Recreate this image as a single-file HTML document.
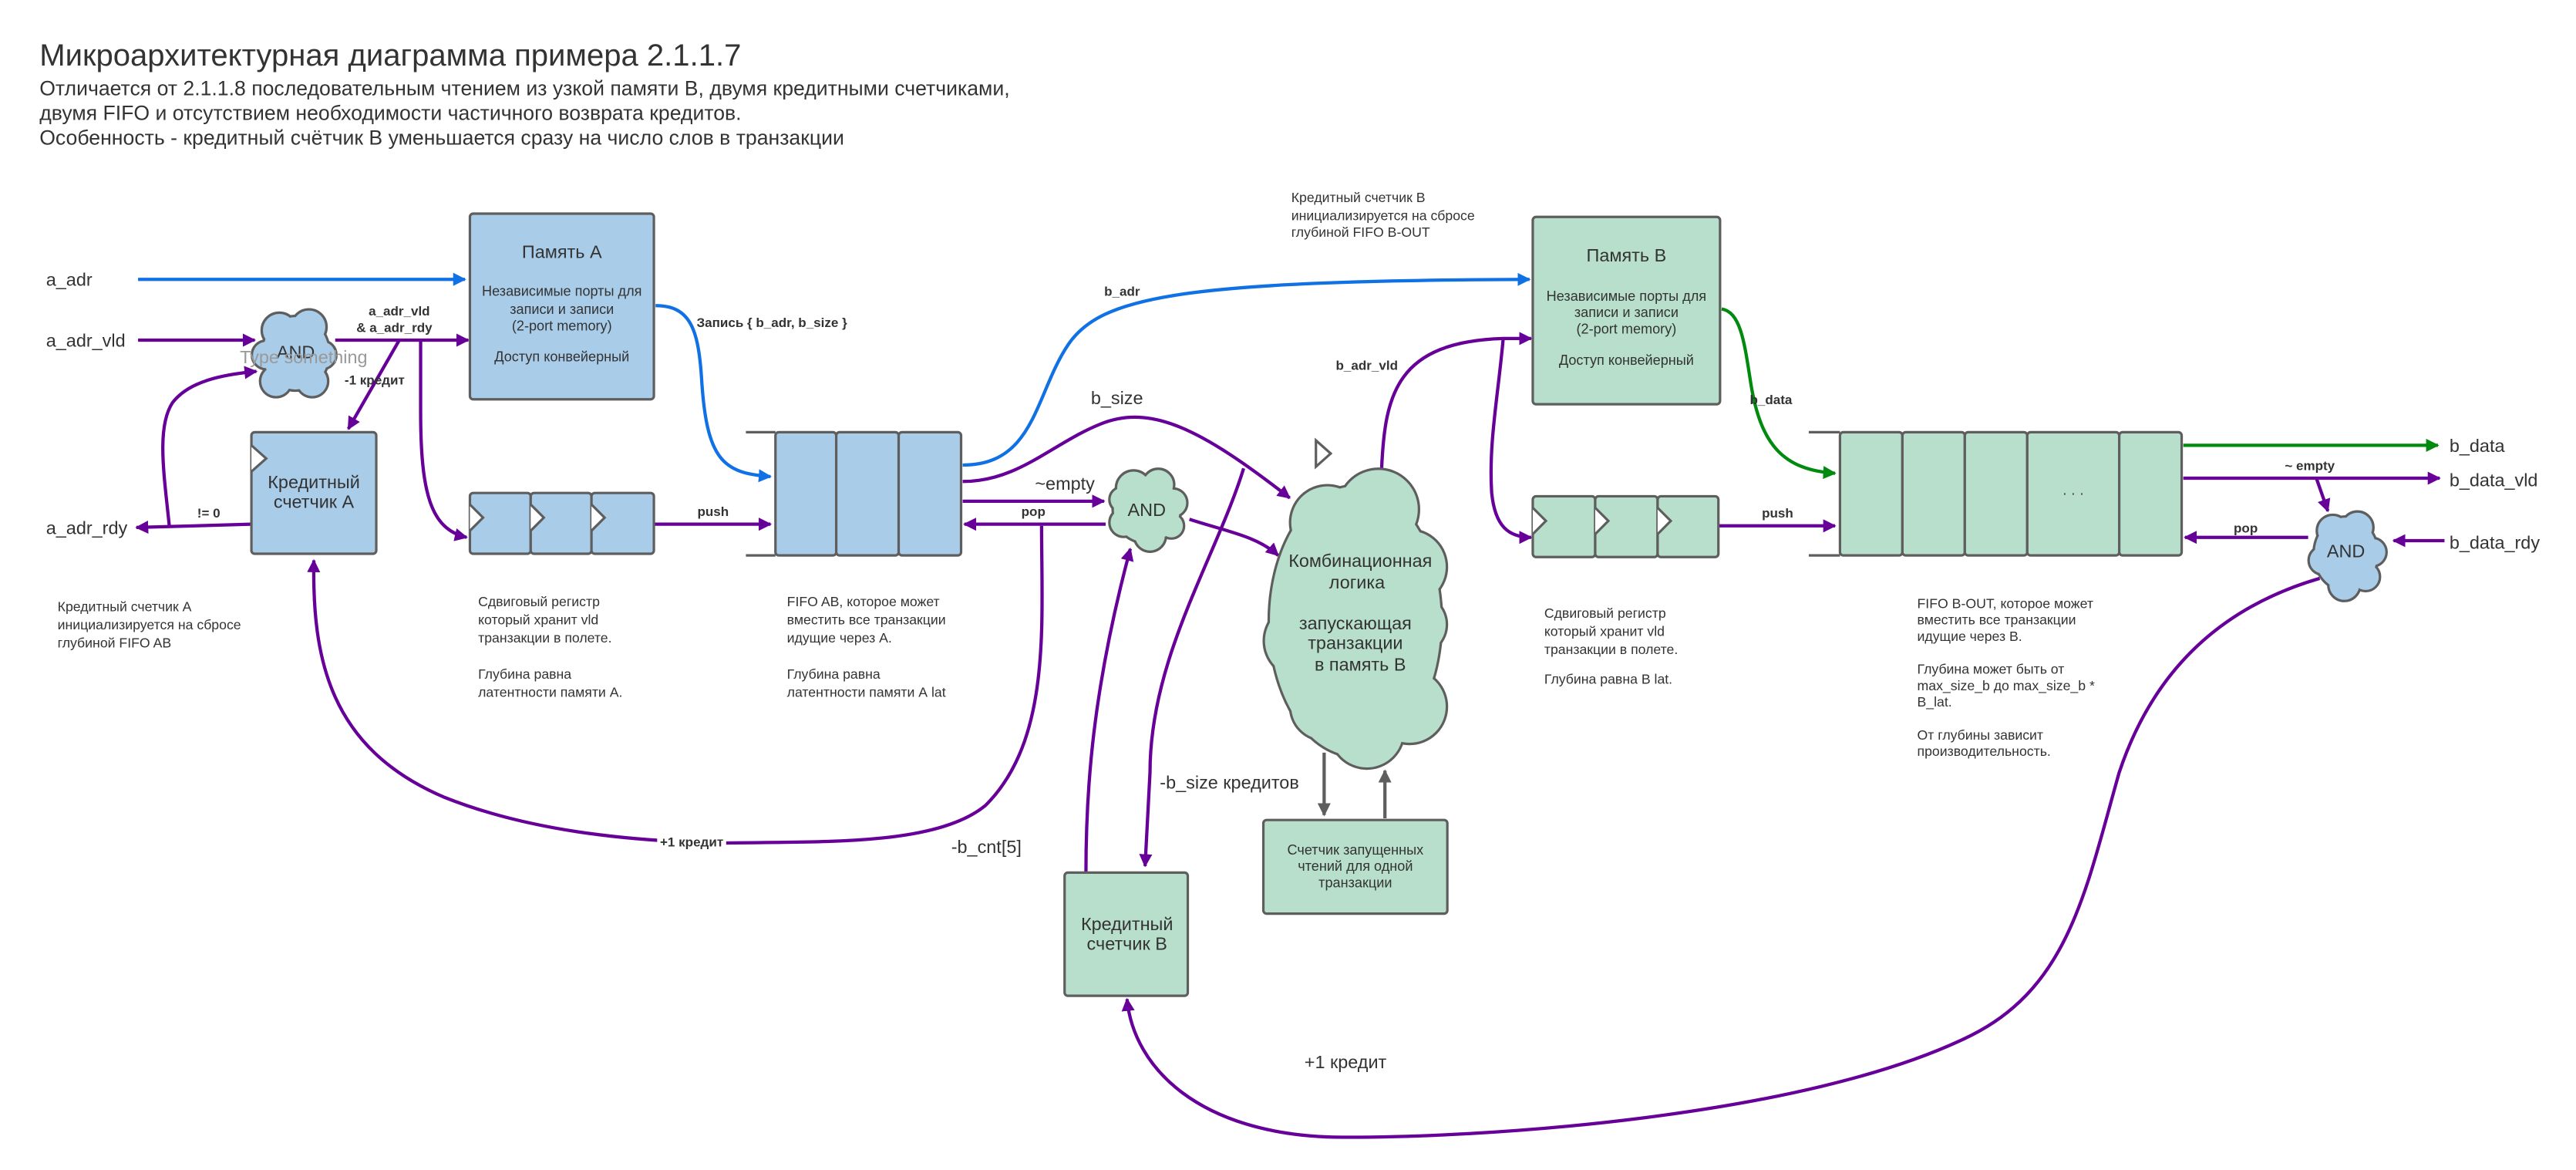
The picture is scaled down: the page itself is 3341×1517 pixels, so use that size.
<!DOCTYPE html>
<html><head><meta charset="utf-8"><style>
html,body{margin:0;padding:0;background:#fff}
svg{display:block}
text{font-family:"Liberation Sans","Noto Sans CJK SC",sans-serif;fill:#333}
.b{font-weight:bold}
</style></head><body>
<svg width="3341" height="1517" viewBox="0 0 1568 712" xmlns="http://www.w3.org/2000/svg">
<defs>
<marker id="mp" viewBox="0 0 10 10" refX="9" refY="5" markerWidth="4" markerHeight="4" orient="auto-start-reverse" markerUnits="strokeWidth"><path d="M0,0L10,5L0,10z" fill="#660099"/></marker>
<marker id="mb" viewBox="0 0 10 10" refX="9" refY="5" markerWidth="4" markerHeight="4" orient="auto" markerUnits="strokeWidth"><path d="M0,0L10,5L0,10z" fill="#1071e5"/></marker>
<marker id="mg" viewBox="0 0 10 10" refX="9" refY="5" markerWidth="4" markerHeight="4" orient="auto" markerUnits="strokeWidth"><path d="M0,0L10,5L0,10z" fill="#008a0e"/></marker>
<marker id="mk" viewBox="0 0 10 10" refX="9" refY="5" markerWidth="4" markerHeight="4" orient="auto" markerUnits="strokeWidth"><path d="M0,0L10,5L0,10z" fill="#5e5e5e"/></marker>
</defs>
<rect width="1568" height="712" fill="#fff"/>
<!-- titles -->
<text x="24" y="40" font-size="18.8">Микроархитектурная диаграмма примера 2.1.1.7</text>
<text x="24" y="58" font-size="12.5">Отличается от 2.1.1.8 последовательным чтением из узкой памяти B, двумя кредитными счетчиками,</text>
<text x="24" y="73" font-size="12.5">двумя FIFO и отсутствием необходимости частичного возврата кредитов.</text>
<text x="24" y="88" font-size="12.5">Особенность - кредитный счётчик B уменьшается сразу на число слов в транзакции</text>

<g fill="none" stroke-width="2">
<path d="M84,170H283" stroke="#1071e5" marker-end="url(#mb)"/>
<path d="M399,186C420,186 425,200 427,230C430,280 440,288 469,290" stroke="#1071e5" marker-end="url(#mb)"/>
<path d="M586,283C630,283 630,240 650,210C670,180 720,171 931,170" stroke="#1071e5" marker-end="url(#mb)"/>
<path d="M1048,188C1060,190 1062,210 1066,235C1072,270 1085,286 1117,288" stroke="#008a0e" marker-end="url(#mg)"/>
<path d="M1329,271H1484" stroke="#008a0e" marker-end="url(#mg)"/>
<g stroke="#660099">
<path d="M84,207H155" marker-end="url(#mp)"/>
<path d="M204,207H285" marker-end="url(#mp)"/>
<path d="M243,207L212,261" marker-end="url(#mp)"/>
<path d="M256,207V250C256,300 262,322 284,327" marker-end="url(#mp)"/>
<path d="M153,319L83,321" marker-end="url(#mp)"/>
<path d="M103,320C100,290 95,260 105,245C115,232 135,228 156,226" marker-end="url(#mp)"/>
<path d="M398,319H469" marker-end="url(#mp)"/>
<path d="M586,293C620,293 640,270 670,258C700,246 730,260 785,303" marker-end="url(#mp)"/>
<path d="M586,305H672" marker-end="url(#mp)"/>
<path d="M673,319H587" marker-end="url(#mp)"/>
<path d="M634,320C634,380 640,450 600,490C570,515 500,512 440,513C380,512 320,505 270,485C200,455 190,400 191,341" marker-end="url(#mp)"/>
<path d="M724,316C745,323 765,326 778,338" marker-end="url(#mp)"/>
<path d="M757,285C740,340 700,400 700,470L697,527" marker-end="url(#mp)"/>
<path d="M661,531C661,480 665,420 688,334" marker-end="url(#mp)"/>
<path d="M841,285C843,240 850,208 915,206L932,206" marker-end="url(#mp)"/>
<path d="M915,206C912,240 906,270 908,300C910,320 918,327 932,327" marker-end="url(#mp)"/>
<path d="M1046,320H1117" marker-end="url(#mp)"/>
<path d="M1329,291H1485" marker-end="url(#mp)"/>
<path d="M1410,291L1417,311" marker-end="url(#mp)"/>
<path d="M1488,329H1457" marker-end="url(#mp)"/>
<path d="M1405,327H1330" marker-end="url(#mp)"/>
<path d="M1412,352C1350,370 1310,410 1290,470C1270,540 1260,600 1200,630C1100,680 900,693 812,692C730,690 690,650 686,608" marker-end="url(#mp)"/>
</g>
<path d="M806,458V496" stroke="#5e5e5e" marker-end="url(#mk)"/>
<path d="M843,498V469" stroke="#5e5e5e" marker-end="url(#mk)"/>
</g>

<g stroke="#5e5e5e" stroke-width="1.5">
<rect x="286" y="130" width="112" height="113" rx="2" fill="#a9cce8"/>
<rect x="153" y="263" width="76" height="74" rx="2" fill="#a9cce8"/>
<rect x="286" y="300" width="37" height="37" rx="2" fill="#a9cce8"/>
<rect x="323" y="300" width="37" height="37" rx="2" fill="#a9cce8"/>
<rect x="360" y="300" width="38" height="37" rx="2" fill="#a9cce8"/>
<rect x="472" y="263" width="37" height="75" rx="2" fill="#a9cce8"/>
<rect x="509" y="263" width="38" height="75" rx="2" fill="#a9cce8"/>
<rect x="547" y="263" width="38" height="75" rx="2" fill="#a9cce8"/>
<path d="M454,263H472M454,338H472" fill="none"/>
<rect x="933" y="132" width="114" height="114" rx="2" fill="#b7dfcc"/>
<rect x="933" y="302" width="38" height="37" rx="2" fill="#b7dfcc"/>
<rect x="971" y="302" width="38" height="37" rx="2" fill="#b7dfcc"/>
<rect x="1009" y="302" width="37" height="37" rx="2" fill="#b7dfcc"/>
<rect x="1120" y="263" width="38" height="75" rx="2" fill="#b7dfcc"/>
<rect x="1158" y="263" width="38" height="75" rx="2" fill="#b7dfcc"/>
<rect x="1196" y="263" width="38" height="75" rx="2" fill="#b7dfcc"/>
<rect x="1234" y="263" width="56" height="75" rx="2" fill="#b7dfcc"/>
<rect x="1290" y="263" width="38" height="75" rx="2" fill="#b7dfcc"/>
<path d="M1101,263H1120M1101,338H1120" fill="none"/>
<rect x="648" y="531" width="75" height="75" rx="2" fill="#b7dfcc"/>
<rect x="769" y="499" width="112" height="57" rx="2" fill="#b7dfcc"/>
<g fill="#fff">
<path d="M153,271L162,279L153,287"/>
<path d="M286,307L294,315L286,323"/><path d="M323,307L331,315L323,323"/><path d="M360,307L368,315L360,323"/>
<path d="M933,309L941,317L933,325"/><path d="M971,309L979,317L971,325"/><path d="M1009,309L1017,317L1009,325"/>
<path d="M801,268L810,276L801,284Z"/>
</g>
</g>

<g stroke="#5e5e5e" stroke-width="3" fill="#5e5e5e">
<ellipse cx="180" cy="215" rx="20" ry="22"/><circle cx="170" cy="201" r="10"/><circle cx="188" cy="199" r="10"/><circle cx="196" cy="216" r="8"/><circle cx="190" cy="232" r="9"/><circle cx="168" cy="232" r="9"/><circle cx="162" cy="216" r="8"/>
<ellipse cx="698" cy="310" rx="20" ry="20"/><circle cx="690" cy="297" r="10"/><circle cx="705" cy="295" r="9"/><circle cx="714" cy="306" r="8"/><circle cx="713" cy="320" r="7"/><circle cx="700" cy="326" r="9"/><circle cx="684" cy="318" r="8"/><circle cx="683" cy="304" r="7"/>
<ellipse cx="1428" cy="337" rx="19" ry="22"/><circle cx="1420" cy="323" r="9"/><circle cx="1435" cy="321" r="9"/><circle cx="1444" cy="336" r="8"/><circle cx="1440" cy="351" r="8"/><circle cx="1427" cy="356" r="9"/><circle cx="1414" cy="341" r="8"/>
<ellipse cx="825" cy="378" rx="52" ry="82"/><circle cx="808" cy="318" r="22"/><circle cx="839" cy="310" r="24"/><circle cx="858" cy="345" r="22"/><circle cx="862" cy="380" r="18"/><circle cx="858" cy="430" r="22"/><circle cx="832" cy="445" r="22"/><circle cx="806" cy="430" r="20"/><circle cx="792" cy="390" r="22"/><circle cx="795" cy="350" r="18"/>
</g>
<g stroke="none">
<g fill="#a9cce8"><ellipse cx="180" cy="215" rx="20" ry="22"/><circle cx="170" cy="201" r="10"/><circle cx="188" cy="199" r="10"/><circle cx="196" cy="216" r="8"/><circle cx="190" cy="232" r="9"/><circle cx="168" cy="232" r="9"/><circle cx="162" cy="216" r="8"/></g>
<g fill="#b7dfcc"><ellipse cx="698" cy="310" rx="20" ry="20"/><circle cx="690" cy="297" r="10"/><circle cx="705" cy="295" r="9"/><circle cx="714" cy="306" r="8"/><circle cx="713" cy="320" r="7"/><circle cx="700" cy="326" r="9"/><circle cx="684" cy="318" r="8"/><circle cx="683" cy="304" r="7"/></g>
<g fill="#a9cce8"><ellipse cx="1428" cy="337" rx="19" ry="22"/><circle cx="1420" cy="323" r="9"/><circle cx="1435" cy="321" r="9"/><circle cx="1444" cy="336" r="8"/><circle cx="1440" cy="351" r="8"/><circle cx="1427" cy="356" r="9"/><circle cx="1414" cy="341" r="8"/></g>
<g fill="#b7dfcc"><ellipse cx="825" cy="378" rx="52" ry="82"/><circle cx="808" cy="318" r="22"/><circle cx="839" cy="310" r="24"/><circle cx="858" cy="345" r="22"/><circle cx="862" cy="380" r="18"/><circle cx="858" cy="430" r="22"/><circle cx="832" cy="445" r="22"/><circle cx="806" cy="430" r="20"/><circle cx="792" cy="390" r="22"/><circle cx="795" cy="350" r="18"/></g>
</g>

<g font-size="11">
<text x="28" y="174">a_adr</text>
<text x="28" y="211">a_adr_vld</text>
<text x="28" y="325">a_adr_rdy</text>
<text x="1491" y="275">b_data</text>
<text x="1491" y="296">b_data_vld</text>
<text x="1491" y="334">b_data_rdy</text>
<text x="664" y="246">b_size</text>
<text x="630" y="298">~empty</text>
<text x="706" y="480">-b_size кредитов</text>
<text x="579" y="519">-b_cnt[5]</text>
<text x="794" y="650">+1 кредит</text>
<text x="180" y="218" text-anchor="middle">AND</text>
<text x="698" y="314" text-anchor="middle">AND</text>
<text x="1428" y="339" text-anchor="middle">AND</text>
<text x="146" y="221" style="fill:#999">Type something</text>
</g>
<g font-size="11" text-anchor="middle">
<text x="342" y="157">Память А</text>
<text x="990" y="159">Память B</text>
<text x="191" y="297">Кредитный</text>
<text x="191" y="309">счетчик А</text>
<text x="686" y="566">Кредитный</text>
<text x="686" y="578">счетчик B</text>
<text x="828" y="345">Комбинационная</text>
<text x="826" y="358">логика</text>
<text x="825" y="383">запускающая</text>
<text x="825" y="395">транзакции</text>
<text x="828" y="408">в память B</text>
</g>
<g font-size="8.5" text-anchor="middle">
<text x="342" y="180">Независимые порты для</text><text x="342" y="191">записи и записи</text><text x="342" y="201">(2-port memory)</text><text x="342" y="220">Доступ конвейерный</text>
<text x="990" y="183">Независимые порты для</text><text x="990" y="193">записи и записи</text><text x="990" y="203">(2-port memory)</text><text x="990" y="222">Доступ конвейерный</text>
<text x="825" y="520">Счетчик запущенных</text><text x="825" y="530">чтений для одной</text><text x="825" y="540">транзакции</text>
<text x="1262" y="303">· · ·</text>
</g>
<g font-size="8" class="b">
<text x="243" y="192" text-anchor="middle">a_adr_vld</text>
<text x="240" y="202" text-anchor="middle">&amp; a_adr_rdy</text>
<text x="228" y="234" text-anchor="middle">-1 кредит</text>
<text x="127" y="315" text-anchor="middle">!= 0</text>
<text x="424" y="199">Запись { b_adr, b_size }</text>
<text x="434" y="314" text-anchor="middle">push</text>
<text x="629" y="314" text-anchor="middle">pop</text>
<text x="683" y="180" text-anchor="middle">b_adr</text>
<text x="832" y="225" text-anchor="middle">b_adr_vld</text>
<text x="1078" y="246" text-anchor="middle">b_data</text>
<text x="1082" y="315" text-anchor="middle">push</text>
<text x="1367" y="324" text-anchor="middle">pop</text>
<text x="1406" y="286" text-anchor="middle">~ empty</text>
<rect x="400" y="507" width="42" height="9" fill="#fff"/>
<text x="421" y="515" text-anchor="middle">+1 кредит</text>
</g>
<g font-size="8.3">
<text x="35" y="372">Кредитный счетчик А</text><text x="35" y="383">инициализируется на сбросе</text><text x="35" y="394">глубиной FIFO AB</text>
<text x="291" y="369">Сдвиговый регистр</text><text x="291" y="380">который хранит vld</text><text x="291" y="391">транзакции в полете.</text><text x="291" y="413">Глубина равна</text><text x="291" y="424">латентности памяти А.</text>
<text x="479" y="369">FIFO AB, которое может</text><text x="479" y="380">вместить все транзакции</text><text x="479" y="391">идущие через А.</text><text x="479" y="413">Глубина равна</text><text x="479" y="424">латентности памяти А lat</text>
<text x="786" y="123">Кредитный счетчик B</text><text x="786" y="134">инициализируется на сбросе</text><text x="786" y="144">глубиной FIFO B-OUT</text>
<text x="940" y="376">Сдвиговый регистр</text><text x="940" y="387">который хранит vld</text><text x="940" y="398">транзакции в полете.</text><text x="940" y="416">Глубина равна B lat.</text>
<text x="1167" y="370">FIFO B-OUT, которое может</text><text x="1167" y="380">вместить все транзакции</text><text x="1167" y="390">идущие через B.</text><text x="1167" y="410">Глубина может быть от</text><text x="1167" y="420">max_size_b до max_size_b *</text><text x="1167" y="430">B_lat.</text><text x="1167" y="450">От глубины зависит</text><text x="1167" y="460">производительность.</text>
</g>
</svg>
</body></html>
